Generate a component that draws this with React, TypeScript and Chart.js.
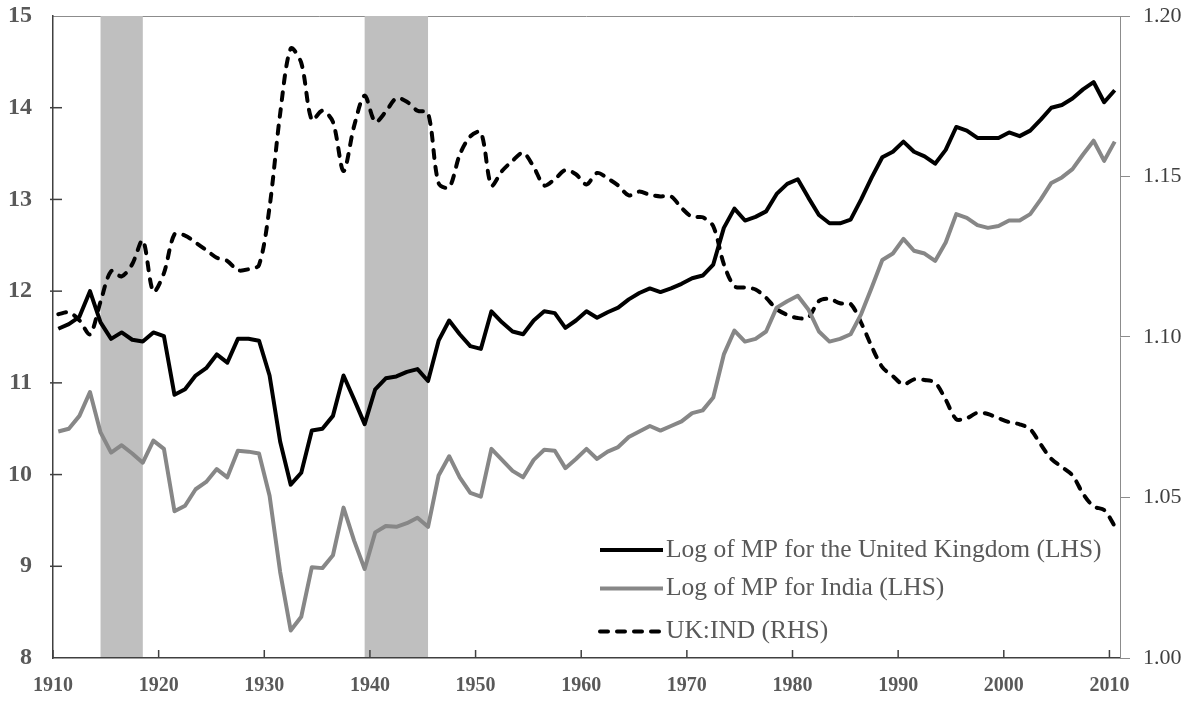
import React, { useEffect, useRef } from 'react';
import { Chart, registerables } from 'chart.js';

Chart.register(...registerables);

const years = [
  1910, 1911, 1912, 1913, 1914, 1915, 1916, 1917, 1918, 1919,
  1920, 1921, 1922, 1923, 1924, 1925, 1926, 1927, 1928, 1929,
  1930, 1931, 1932, 1933, 1934, 1935, 1936, 1937, 1938, 1939,
  1940, 1941, 1942, 1943, 1944, 1945, 1946, 1947, 1948, 1949,
  1950, 1951, 1952, 1953, 1954, 1955, 1956, 1957, 1958, 1959,
  1960, 1961, 1962, 1963, 1964, 1965, 1966, 1967, 1968, 1969,
  1970, 1971, 1972, 1973, 1974, 1975, 1976, 1977, 1978, 1979,
  1980, 1981, 1982, 1983, 1984, 1985, 1986, 1987, 1988, 1989,
  1990, 1991, 1992, 1993, 1994, 1995, 1996, 1997, 1998, 1999,
  2000, 2001, 2002, 2003, 2004, 2005, 2006, 2007, 2008, 2009,
  2010,
];

const ukLogMP = [
  11.59, 11.64, 11.72, 12.0, 11.66, 11.48, 11.55, 11.47, 11.45, 11.55,
  11.51, 10.87, 10.93, 11.08, 11.16, 11.31, 11.22, 11.48, 11.48, 11.46,
  11.08, 10.36, 9.89, 10.02, 10.48, 10.5, 10.64, 11.08, 10.82, 10.55,
  10.93, 11.05, 11.07, 11.12, 11.15, 11.02, 11.46, 11.68, 11.53, 11.4,
  11.37, 11.78, 11.66, 11.56, 11.53, 11.68, 11.78, 11.76, 11.6, 11.68,
  11.78, 11.71, 11.77, 11.82, 11.91, 11.98, 12.03, 11.99, 12.03, 12.08,
  12.14, 12.17, 12.29, 12.69, 12.9, 12.77, 12.81, 12.87, 13.06, 13.17,
  13.22, 13.02, 12.83, 12.74, 12.74, 12.78, 13.0, 13.24, 13.46, 13.52,
  13.63, 13.52, 13.47, 13.39, 13.54, 13.79, 13.75, 13.67, 13.67, 13.67,
  13.73, 13.69, 13.75, 13.87, 14.0, 14.03, 14.1, 14.2, 14.28, 14.06,
  14.19,
];

const indiaLogMP = [
  10.47, 10.5, 10.64, 10.9, 10.46, 10.24, 10.32, 10.23, 10.13, 10.37,
  10.28, 9.6, 9.66, 9.84, 9.92, 10.06, 9.97, 10.26, 10.25, 10.23,
  9.77, 8.94, 8.3, 8.45, 8.99, 8.98, 9.12, 9.64, 9.28, 8.97,
  9.37, 9.44, 9.43, 9.47, 9.53, 9.43, 9.99, 10.2, 9.97, 9.8,
  9.76, 10.28, 10.16, 10.04, 9.97, 10.16, 10.27, 10.26, 10.07, 10.17,
  10.28, 10.17, 10.25, 10.3, 10.41, 10.47, 10.53, 10.48, 10.53, 10.58,
  10.67, 10.7, 10.84, 11.31, 11.57, 11.45, 11.48, 11.56, 11.82, 11.89,
  11.95, 11.8, 11.56, 11.45, 11.48, 11.53, 11.75, 12.04, 12.34, 12.41,
  12.57, 12.44, 12.41, 12.33, 12.53, 12.84, 12.8, 12.72, 12.69, 12.71,
  12.77, 12.77, 12.84, 13.0, 13.18, 13.24, 13.33, 13.49, 13.64, 13.42,
  13.63,
];

const ukIndRatio = [
  1.1071, 1.1077, 1.1052, 1.1008, 1.111, 1.1205, 1.1189, 1.1227, 1.1301, 1.1141,
  1.1199, 1.132, 1.1316, 1.1294, 1.1271, 1.1247, 1.1237, 1.1208, 1.1211, 1.1224,
  1.1405, 1.1695, 1.1899, 1.1854, 1.1676, 1.1705, 1.167, 1.1517, 1.1657, 1.1752,
  1.167, 1.1702, 1.1744, 1.1733, 1.1705, 1.1698, 1.1479, 1.1466, 1.1568, 1.1625,
  1.1638, 1.1472, 1.1517, 1.1549, 1.1574, 1.153, 1.1472, 1.1492, 1.152, 1.1507,
  1.1475, 1.1511, 1.1494, 1.1472, 1.1441, 1.1453, 1.1443, 1.1438, 1.1438, 1.1402,
  1.1374, 1.1373, 1.1345, 1.1227, 1.1158, 1.1154, 1.1148, 1.1122, 1.1087, 1.1069,
  1.1059, 1.1061, 1.1112, 1.1119, 1.1105, 1.1103, 1.1044, 1.097, 1.0906, 1.0878,
  1.0852, 1.0868, 1.0866, 1.0858, 1.0805, 1.0744, 1.0747, 1.0764, 1.076, 1.0747,
  1.0735, 1.0728, 1.0713, 1.0665, 1.062, 1.0595, 1.0569, 1.0512, 1.0472, 1.0461,
  1.0411,
];

const warStartYears = [1914, 1939];
const warEndYears = [1918, 1945];
const xTickYears = [1910, 1920, 1930, 1940, 1950, 1960, 1970, 1980, 1990, 2000, 2010];
const leftInnerTicks = [9, 10, 11, 12, 13, 14];

const seriesLabels = [
  'Log of MP for the United Kingdom (LHS)',
  'Log of MP for India (LHS)',
  'UK:IND (RHS)',
];

const SERIF = "'Liberation Serif', 'Times New Roman', serif";
const AXIS_DARK = '#404040';
const AXIS_LIGHT = '#8c8c8c';

const zeroPad = (s: any) => {
  s.paddingTop = 0;
  s.paddingBottom = 0;
  s.paddingLeft = 0;
  s.paddingRight = 0;
};

const decorPlugin = {
  id: 'decor',
  beforeDraw(chart: any) {
    const { ctx, chartArea: a, scales } = chart;
    const x = scales.x;
    ctx.save();
    ctx.strokeStyle = AXIS_LIGHT;
    ctx.lineWidth = 1;
    ctx.beginPath();
    ctx.moveTo(a.left, Math.round(a.top) + 0.5);
    ctx.lineTo(a.right, Math.round(a.top) + 0.5);
    ctx.stroke();
    ctx.fillStyle = '#bfbfbf';
    warStartYears.forEach((s, i) => {
      const x0 = x.getPixelForValue(years.indexOf(s));
      const x1 = x.getPixelForValue(years.indexOf(warEndYears[i]));
      ctx.fillRect(x0, a.top, x1 - x0, a.bottom - a.top);
    });
    ctx.restore();
  },
  beforeDatasetsDraw(chart: any) {
    const { ctx, chartArea: a, scales } = chart;
    ctx.save();
    ctx.strokeStyle = AXIS_DARK;
    ctx.lineWidth = 1.5;
    xTickYears.forEach((yr) => {
      const px = scales.x.getPixelForValue(years.indexOf(yr) - 0.5);
      ctx.beginPath();
      ctx.moveTo(px, a.bottom);
      ctx.lineTo(px, a.bottom - 8);
      ctx.stroke();
    });
    leftInnerTicks.forEach((v) => {
      const py = scales.y.getPixelForValue(v);
      ctx.beginPath();
      ctx.moveTo(a.left - 3, py);
      ctx.lineTo(a.left + 9, py);
      ctx.stroke();
    });
    ctx.restore();
  },
  afterDraw(chart: any) {
    const { ctx } = chart;
    const rowsY = [550, 588.5, 631.5];
    ctx.save();
    ctx.font = `25.5px ${SERIF}`;
    ctx.textBaseline = 'middle';
    ctx.textAlign = 'left';
    chart.data.datasets.forEach((ds: any, i: number) => {
      const yy = rowsY[i];
      ctx.strokeStyle = ds.borderColor;
      ctx.lineWidth = ds.borderWidth;
      ctx.lineCap = ds.borderCapStyle || 'butt';
      ctx.setLineDash(ds.borderDash || []);
      ctx.beginPath();
      ctx.moveTo(600, yy);
      ctx.lineTo(663, yy);
      ctx.stroke();
      ctx.setLineDash([]);
      ctx.fillStyle = '#595959';
      ctx.fillText(ds.label, 666, yy);
    });
    ctx.restore();
  },
};

export default function App() {
  const canvasRef = useRef<HTMLCanvasElement | null>(null);

  useEffect(() => {
    const canvas = canvasRef.current;
    if (!canvas) return;
    const chart = new Chart(canvas, {
      type: 'line',
      data: {
        labels: years.map(String),
        datasets: [
          {
            label: seriesLabels[0],
            data: ukLogMP,
            yAxisID: 'y',
            borderColor: '#000000',
            borderWidth: 4,
            pointRadius: 0,
            tension: 0,
            borderJoinStyle: 'round',
          },
          {
            label: seriesLabels[1],
            data: indiaLogMP,
            yAxisID: 'y',
            borderColor: '#878787',
            borderWidth: 4,
            pointRadius: 0,
            tension: 0,
            borderJoinStyle: 'round',
          },
          {
            label: seriesLabels[2],
            data: ukIndRatio,
            yAxisID: 'y1',
            borderColor: '#000000',
            borderWidth: 4,
            borderDash: [8, 9],
            borderCapStyle: 'round',
            pointRadius: 0,
            tension: 0.3,
          },
        ],
      },
      options: {
        responsive: false,
        animation: false,
        events: [],
        layout: { padding: { top: 16, left: 0, right: 0, bottom: 0 } },
        plugins: {
          legend: { display: false },
          tooltip: { enabled: false },
        },
        scales: {
          x: {
            type: 'category',
            offset: true,
            grid: { display: false, drawTicks: false },
            border: { display: true, color: AXIS_DARK, width: 1.5 },
            ticks: {
              autoSkip: false,
              maxRotation: 0,
              minRotation: 0,
              padding: 16,
              labelOffset: -5.28,
              color: '#595959',
              font: { family: SERIF, size: 20, weight: 'bold' },
              callback: (_v: any, idx: number) =>
                xTickYears.includes(years[idx]) ? String(years[idx]) : '',
            },
            afterFit: (s: any) => {
              s.height = 44;
              zeroPad(s);
            },
          },
          y: {
            position: 'left',
            min: 8,
            max: 15,
            grid: { display: false, drawTicks: false },
            border: { display: true, color: AXIS_DARK, width: 1.5 },
            ticks: {
              stepSize: 1,
              padding: 21,
              color: '#595959',
              font: { family: SERIF, size: 24, weight: 'bold' },
            },
            afterFit: (s: any) => {
              s.width = 53;
              zeroPad(s);
            },
          },
          y1: {
            position: 'right',
            min: 1.0,
            max: 1.2,
            grid: {
              display: true,
              drawOnChartArea: false,
              drawTicks: true,
              tickLength: 10,
              color: AXIS_LIGHT,
            },
            border: { display: true, color: AXIS_LIGHT, width: 1 },
            ticks: {
              stepSize: 0.05,
              padding: 13,
              color: '#404040',
              font: { family: SERIF, size: 22 },
              callback: (v: any) => Number(v).toFixed(2),
            },
            afterFit: (s: any) => {
              s.width = 75;
              zeroPad(s);
            },
          },
        },
      },
      plugins: [decorPlugin],
    });
    return () => chart.destroy();
  }, []);

  return (
    <div style={{ position: 'absolute', left: 0, top: 0, width: 1195, height: 702, background: '#ffffff' }}>
      <canvas ref={canvasRef} width={1195} height={702} style={{ display: 'block' }} />
    </div>
  );
}
